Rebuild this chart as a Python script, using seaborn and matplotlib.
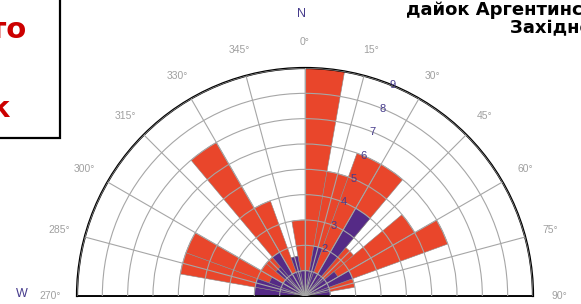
import numpy as np
import pandas as pd
import matplotlib
matplotlib.use("Agg")
import matplotlib.pyplot as plt
import seaborn as sns
from matplotlib.patches import Rectangle

# ---- data (10-degree bins, left edge in degrees clockwise from North) ----
bin_left = [270, 280, 290, 300, 310, 320, 330, 340, 350, 0, 10, 20, 30, 40, 50, 60, 70, 80]
red_counts = [2, 5, 5, 2, 2, 7, 4, 1.6, 3, 9, 5, 6, 6, 2.5, 5, 6, 2, 1]
purple_counts = [2, 2, 1.5, 1, 1.5, 2, 1, 1.6, 1, 1, 2, 1, 4, 1, 1.5, 2, 1, 1]
angle_ticks = [270, 285, 300, 315, 330, 345, 0, 15, 30, 45, 60, 75, 90]
angle_labels = ["270°", "285°", "300°", "315°", "330°", "345°", "0°",
                "15°", "30°", "45°", "60°", "75°", "90°"]
ring_ticks = [1, 2, 3, 4, 5, 6, 7, 8, 9]
ring_labels = ["", "2", "3", "4", "5", "6", "7", "8", "9"]
right_title = ["дайок Аргентинських островів", "Західної Антарктиди"]
left_note = [("Структуру", 38), ("Місто", 27), ("на", -8), ("острівок", 11)]

RED = "#e9462b"
PURPLE = "#552a86"
NAVY = "#463b8c"
GRID = "#a6a6a6"

sns.set_theme(style="white")
plt.rcParams["font.family"] = ["Liberation Sans", "DejaVu Sans"]

W, H = 581, 304
fig = plt.figure(figsize=(W / 100, H / 100), dpi=100)
# square box so that the half disc (radius 228 px) sits with its centre at (305, 296)
ax = fig.add_axes([77 / W, (H - 410) / H, 456 / W, 456 / H], projection="polar")
ax.set_theta_zero_location("N")
ax.set_theta_direction(-1)


def signed(a):
    return a - 360 if a > 180 else a


centers = np.deg2rad([signed(a) + 5 for a in bin_left])
df_red = pd.DataFrame({"theta": centers, "n": red_counts})
df_pur = pd.DataFrame({"theta": centers, "n": purple_counts})

sns.barplot(data=df_red, x="theta", y="n", native_scale=True, width=1.0,
            color=RED, saturation=1, edgecolor="#8a8a8a", linewidth=0.4,
            errorbar=None, orient="x", ax=ax)
sns.barplot(data=df_pur, x="theta", y="n", native_scale=True, width=1.0,
            color=PURPLE, saturation=1, edgecolor="#8a8a8a", linewidth=0.4,
            errorbar=None, orient="x", ax=ax)

ax.set_thetamin(-90)
ax.set_thetamax(90)
ax.set_ylim(0, 9)
ax.set_xlabel("")
ax.set_ylabel("")

ax.set_thetagrids([signed(a) for a in angle_ticks], angle_labels)
ax.set_rgrids(ring_ticks, labels=[""] * len(ring_ticks))
ax.tick_params(axis="x", labelsize=7.5, labelcolor="#a0a0a0", pad=6)

# ring value labels along the 22.5 degree direction
for r, lab in zip(ring_ticks, ring_labels):
    if lab:
        ax.text(np.deg2rad(22.5), r, lab, ha="center", va="center",
                fontsize=8, color=NAVY, zorder=5, clip_on=False)

ax.grid(True, color=GRID, linewidth=0.8)
ax.set_axisbelow(False)
ax.spines["polar"].set(color="black", linewidth=1.6)
ax.spines["start"].set(color="black", linewidth=1.4)
ax.spines["end"].set(color="black", linewidth=1.4)
ax.spines["inner"].set_visible(False)

# compass letters
fig.text(302 / W, 1 - 14 / H, "N", ha="center", va="center", color=NAVY, fontsize=9)
fig.text(22 / W, 1 - 294 / H, "W", ha="center", va="center", color=NAVY, fontsize=9)

# right title (cut by the figure edge)
fig.text(724 / W, 1 - 15 / H, right_title[0], ha="right", va="baseline",
         fontsize=13, fontweight="bold", color="black", family="DejaVu Sans")
fig.text(728 / W, 1 - 33 / H, right_title[1], ha="right", va="baseline",
         fontsize=13, fontweight="bold", color="black", family="DejaVu Sans")

# left red note in a box (cut by the figure edge)
fig.patches.append(Rectangle((-0.3, 1 - 138 / H), 0.3 + 60 / W, 0.8,
                             transform=fig.transFigure, fill=False,
                             edgecolor="black", linewidth=1.6))
baselines = [-6, 38, 78, 117]
for (txt, xr), yb in zip(left_note, baselines):
    fig.text(xr / W, 1 - yb / H, txt, ha="right", va="baseline", fontsize=21,
             fontweight="bold", color="#cc0000", family="DejaVu Sans")

fig.savefig("out.png", dpi=100)
